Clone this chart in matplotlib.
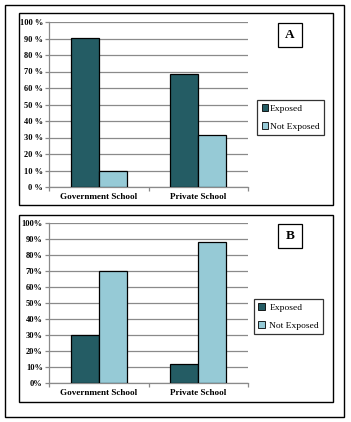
import matplotlib
matplotlib.use("Agg")
import matplotlib.pyplot as plt
from matplotlib.patches import Rectangle, Patch
import numpy as np

categories = ["Government School", "Private School"]
series = ["Exposed", "Not Exposed"]
exposed_A = [90.3, 68.3]
not_exposed_A = [9.7, 31.7]
exposed_B = [30.2, 12.0]
not_exposed_B = [69.8, 88.0]
yticks = [0, 10, 20, 30, 40, 50, 60, 70, 80, 90, 100]
yticklabels_A = [f"{v} %" for v in yticks]
yticklabels_B = [f"{v}%" for v in yticks]
panel_labels = ["A", "B"]

c_exp = "#245C64"
c_not = "#96CAD6"
grid_c = "#8a8a8a"

W, H = 351, 422
fig = plt.figure(figsize=(W/100, H/100), dpi=100)
plt.rcParams['font.family'] = ['Liberation Serif', 'DejaVu Serif']

def fx(x): return x / W
def fy(y): return 1 - y / H

def frame(x0, y0, x1, y1, lw=1.0):
    fig.patches.append(Rectangle((fx(x0), fy(y1)), fx(x1) - fx(x0), fy(y0) - fy(y1),
                                 transform=fig.transFigure, fill=False,
                                 edgecolor="black", linewidth=lw, zorder=0))

frame(5, 5, 344, 417)
frame(19, 13, 333, 205)
frame(19, 215, 333, 402)

def panel(top, bottom, exp, nexp, ylabels, label, lab_box, leg_box, tpad):
    ax = fig.add_axes([fx(49), fy(bottom), fx(248) - fx(49), fy(top) - fy(bottom)])
    x = np.arange(len(categories))
    w = 0.28
    ax.bar(x - w/2, exp, w, color=c_exp, edgecolor="black", linewidth=0.9, zorder=3)
    ax.bar(x + w/2, nexp, w, color=c_not, edgecolor="black", linewidth=0.9, zorder=3)
    ax.set_xlim(-0.5, 1.5)
    ax.set_ylim(0, 100)
    ax.set_yticks(yticks)
    ax.set_yticklabels(ylabels, fontsize=6.0, fontweight="bold")
    ax.yaxis.grid(True, color=grid_c, linewidth=0.9, zorder=0)
    ax.set_axisbelow(True)
    ax.set_xticks([-0.5, 0.5, 1.5])
    ax.set_xticklabels([])
    ax.set_xticks(x, minor=True)
    ax.set_xticklabels(categories, minor=True, fontsize=6.6, fontweight="bold")
    ax.tick_params(axis="x", which="minor", length=0, pad=4.5)
    ax.tick_params(axis="x", which="major", length=3, color=grid_c, width=0.9)
    ax.tick_params(axis="y", length=3, color=grid_c, width=0.9, pad=1.5)
    for s in ["top", "right"]:
        ax.spines[s].set_visible(False)
    for s in ["left", "bottom"]:
        ax.spines[s].set_color(grid_c)
        ax.spines[s].set_linewidth(0.9)
    # panel label box
    bx0, by0, bx1, by1 = lab_box
    fig.patches.append(Rectangle((fx(bx0), fy(by1)), fx(bx1) - fx(bx0), fy(by0) - fy(by1),
                                 transform=fig.transFigure, fill=True, facecolor="white",
                                 edgecolor="black", linewidth=0.9))
    fig.text(fx((bx0 + bx1) / 2), fy((by0 + by1) / 2), label, fontsize=9.5,
             fontweight="bold", ha="center", va="center")
    # legend
    lx0, ly0, lx1, ly1 = leg_box
    handles = [Patch(facecolor=c_exp, edgecolor="black", linewidth=0.6),
               Patch(facecolor=c_not, edgecolor="black", linewidth=0.6)]
    leg = fig.legend(handles, series, loc="center",
                     bbox_to_anchor=(fx((lx0 + lx1) / 2), fy((ly0 + ly1) / 2)),
                     bbox_transform=fig.transFigure,
                     fontsize=6.8, frameon=True, fancybox=False, edgecolor="black",
                     handlelength=0.7, handleheight=0.7, handletextpad=tpad,
                     labelspacing=1.0, borderpad=0.45, borderaxespad=0)
    leg.get_frame().set_linewidth(0.9)
    return ax

panel(22, 187, exposed_A, not_exposed_A, yticklabels_A, panel_labels[0],
      (278, 23, 302, 47), (260, 98, 321, 137), 0.15)
panel(223, 383, exposed_B, not_exposed_B, yticklabels_B, panel_labels[1],
      (278, 224, 302, 248), (256, 297, 321, 336), 0.5)

fig.savefig("out.png", dpi=100)
